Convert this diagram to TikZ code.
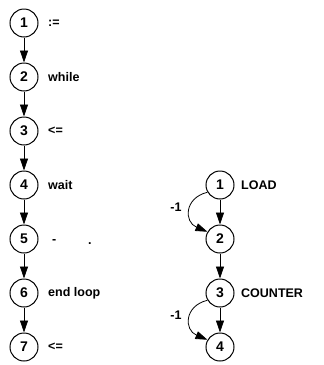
\documentclass[tikz,border=0pt]{standalone}
\usepackage{fontspec}
\setmainfont{Liberation Sans}
\usetikzlibrary{arrows.meta}
\begin{document}
\begin{tikzpicture}[x=1pt,y=-1pt,
  vert/.style={circle,draw,line width=1pt,minimum size=28pt,inner sep=0pt,font=\fontsize{14}{14}\selectfont\bfseries},
  lbl/.style={anchor=west,inner sep=0pt,font=\fontsize{12.5}{12.5}\selectfont\bfseries},
  edge/.style={line width=0.8pt,-{Triangle[length=12pt,width=8pt]}},
  wt/.style={inner sep=0pt,font=\fontsize{12.5}{12.5}\selectfont\bfseries}]
\useasboundingbox (0,0) rectangle (324,365);
% left chain of statements
\foreach \i/\y in {1/23,2/77,3/131,4/185,5/239,6/293,7/347}
  \node[vert] (a\i) at (24,\y) {\i};
\node[lbl] (la1) at (48,23) {:=};
\node[lbl] (la2) at (48,77) {while};
\node[lbl] (la3) at (48,131) {<=};
\node[lbl] (la4) at (48,185) {wait};
\node[lbl] (la5) at (52,242) {-};
\node[lbl] (la5b) at (88,244) {.};
\node[lbl] (la6) at (48,293) {end loop};
\node[lbl] (la7) at (48,347) {<=};
\foreach \i/\j in {1/2,2/3,3/4,4/5,5/6,6/7}
  \draw[edge] (a\i) -- (a\j);
% right graph with back weights
\foreach \i/\y in {1/185,2/239,3/293,4/347}
  \node[vert] (b\i) at (220,\y) {\i};
\node[lbl] (lb1) at (241,185) {LOAD};
\node[lbl] (lb3) at (241,293) {COUNTER};
\foreach \i/\j in {1/2,2/3,3/4}
  \draw[edge] (b\i) -- (b\j);
\draw[edge] (b1.210) .. controls (184,198) and (184,222) .. (b2.150);
\draw[edge] (b3.210) .. controls (184,306) and (184,330) .. (b4.150);
\node[wt] (w1) at (176,207) {-1};
\node[wt] (w2) at (176,315) {-1};
\end{tikzpicture}
\end{document}
